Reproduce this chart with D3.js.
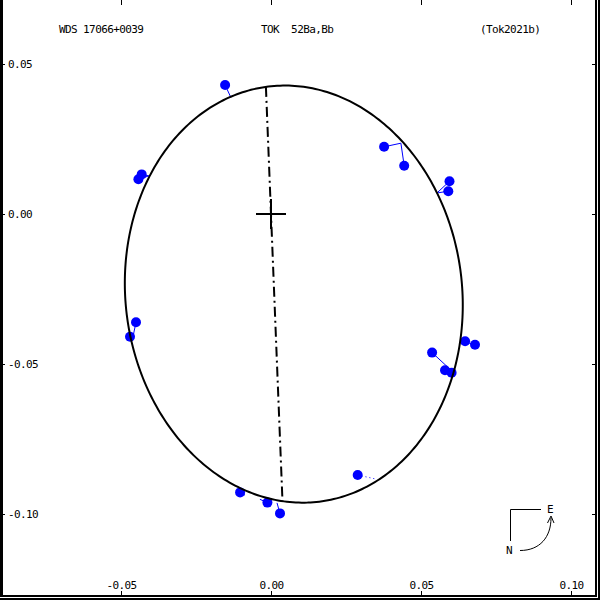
<!DOCTYPE html>
<html>
<head>
<meta charset="utf-8">
<script src="https://cdn.jsdelivr.net/npm/d3@7"></script>
<style>
  html, body { margin: 0; padding: 0; background: #fff; }
  svg { display: block; }
  text { font-family: "DejaVu Sans Mono", "Liberation Mono", monospace; font-size: 11px; letter-spacing: -0.6px; fill: #000; }
</style>
</head>
<body>
<svg id="chart" width="600" height="600"></svg>
<script>
// ---- Data (arcsec) ----
const titleLeft = "WDS 17066+0039";
const titleMid = "TOK  52Ba,Bb";
const titleRight = "(Tok2021b)";

const xTicks = [-0.05, 0.00, 0.05, 0.10];
const xTickLabels = ["-0.05", "0.00", "0.05", "0.10"];
const yTicks = [0.05, 0.00, -0.05, -0.10];
const yTickLabels = ["0.05", "0.00", "-0.05", "-0.10"];

// apparent orbit ellipse: centre, semi-axes, major-axis angle (deg from +x, CCW)
const orbitCenter = [0.0076, -0.0267];
const orbitSemiAxes = [0.0697, 0.0561];
const orbitAngleDeg = 97;
// line of nodes direction through primary (dx, dy)
const nodeDir = [-0.04, 1];

// observed positions
const obsX = [-0.0153, 0.0377, 0.0444, 0.0595, 0.0591, -0.0431, -0.0442, -0.0450, -0.0470,
              0.0537, 0.0580, 0.0602, 0.0647, 0.0680, 0.0289, -0.0103, -0.0012, 0.0030];
const obsY = [0.0430, 0.0224, 0.0161, 0.0109, 0.0076, 0.0132, 0.0116, -0.0361, -0.0409,
              -0.0462, -0.0521, -0.0529, -0.0424, -0.0436, -0.0870, -0.0928, -0.0962, -0.0998];
// predicted (ephemeris) positions on orbit for O-C lines
const predX = [-0.0134, 0.0433, 0.0433, 0.0553, 0.0553, -0.0407, -0.0407, -0.0463, -0.0463,
               0.0607, 0.0607, 0.0607, 0.0637, 0.0637, 0.0352, -0.0087, -0.0037, 0.0020];
const predY = [0.0389, 0.0236, 0.0236, 0.0070, 0.0070, 0.0127, 0.0127, -0.0423, -0.0423,
               -0.0527, -0.0527, -0.0527, -0.0423, -0.0423, -0.0884, -0.0937, -0.0951, -0.0963];
const obsDotted = [false, false, false, false, false, false, false, false, false,
                   false, false, false, false, false, true, false, false, false];

// ---- Chart ----
const svg = d3.select("#chart");
const x = d3.scaleLinear().domain([0, 0.05]).range([271, 421]);
const y = d3.scaleLinear().domain([0, 0.05]).range([214, 64]);

// frame
const frame = svg.append("g").attr("stroke", "#000").attr("fill", "none");
frame.append("line").attr("x1", 1.5).attr("y1", 0).attr("x2", 1.5).attr("y2", 597).attr("stroke-width", 3);
frame.append("line").attr("x1", 596).attr("y1", 0).attr("x2", 596).attr("y2", 597).attr("stroke-width", 2);
frame.append("line").attr("x1", 599).attr("y1", 0).attr("x2", 599).attr("y2", 600).attr("stroke-width", 2);
frame.append("line").attr("x1", 0).attr("y1", 596).attr("x2", 597).attr("y2", 596).attr("stroke-width", 2);
frame.append("line").attr("x1", 0).attr("y1", 599).attr("x2", 600).attr("y2", 599).attr("stroke-width", 2);

function styleAxis(g, showLabels) {
  g.select(".domain").remove();
  g.selectAll(".tick line").attr("stroke", "#000").attr("stroke-width", 1);
  g.attr("font-family", null).attr("font-size", null);
  if (!showLabels) g.selectAll(".tick text").remove();
}

// bottom axis (labels above ticks, inside frame)
svg.append("g").attr("transform", "translate(0,596)")
  .call(d3.axisTop(x).tickValues(xTicks).tickFormat((d, i) => xTickLabels[i]).tickSizeInner(5).tickSizeOuter(0).tickPadding(2))
  .call(g => styleAxis(g, true));
// top ticks
svg.append("g").attr("transform", "translate(0,0)")
  .call(d3.axisBottom(x).tickValues(xTicks).tickSizeInner(5).tickSizeOuter(0))
  .call(g => styleAxis(g, false));
// left axis (labels right of ticks)
svg.append("g").attr("transform", "translate(0,0)")
  .call(d3.axisRight(y).tickValues(yTicks).tickFormat((d, i) => yTickLabels[i]).tickSizeInner(5).tickSizeOuter(0).tickPadding(3))
  .call(g => styleAxis(g, true));
// right ticks
svg.append("g").attr("transform", "translate(596,0)")
  .call(d3.axisLeft(y).tickValues(yTicks).tickSizeInner(4).tickSizeOuter(0))
  .call(g => styleAxis(g, false));

// titles
svg.append("text").attr("x", 59).attr("y", 33).text(titleLeft);
svg.append("text").attr("x", 261).attr("y", 33).attr("xml:space", "preserve").style("white-space", "pre").text(titleMid);
svg.append("text").attr("x", 480).attr("y", 33).text(titleRight);

// observations: O-C lines
const obs = obsX.map((d, i) => ({ x: d, y: obsY[i], px: predX[i], py: predY[i], dotted: obsDotted[i] }));
svg.append("g").selectAll("line").data(obs).join("line")
  .attr("x1", d => x(d.x)).attr("y1", d => y(d.y))
  .attr("x2", d => x(d.px)).attr("y2", d => y(d.py))
  .attr("stroke", "#0000ff").attr("stroke-width", 1)
  .attr("stroke-dasharray", d => d.dotted ? "1,3" : null);
svg.append("g").selectAll("circle").data(obs).join("circle")
  .attr("cx", d => x(d.x)).attr("cy", d => y(d.y)).attr("r", 5)
  .attr("fill", "#0000ff");

// orbit ellipse
const th = orbitAngleDeg * Math.PI / 180;
const u = [Math.cos(th), Math.sin(th)], v = [-Math.sin(th), Math.cos(th)];
const [A, B] = orbitSemiAxes;
const ellPts = d3.range(0, 361, 1).map(k => {
  const t = k * Math.PI / 180;
  return [orbitCenter[0] + A * Math.cos(t) * u[0] + B * Math.sin(t) * v[0],
          orbitCenter[1] + A * Math.cos(t) * u[1] + B * Math.sin(t) * v[1]];
});
svg.append("path").datum(ellPts)
  .attr("d", d3.line().x(d => x(d[0])).y(d => y(d[1])))
  .attr("fill", "none").attr("stroke", "#000").attr("stroke-width", 2);

// line of nodes: intersections of line through origin with ellipse
function toLocal(p) {
  const q = [p[0] - orbitCenter[0], p[1] - orbitCenter[1]];
  return [(q[0] * u[0] + q[1] * u[1]) / A, (q[0] * v[0] + q[1] * v[1]) / B];
}
const o = toLocal([0, 0]);
const dl = [(nodeDir[0] * u[0] + nodeDir[1] * u[1]) / A, (nodeDir[0] * v[0] + nodeDir[1] * v[1]) / B];
const qa = dl[0] * dl[0] + dl[1] * dl[1];
const qb = 2 * (o[0] * dl[0] + o[1] * dl[1]);
const qc = o[0] * o[0] + o[1] * o[1] - 1;
const disc = Math.sqrt(qb * qb - 4 * qa * qc);
const s1 = (-qb + disc) / (2 * qa), s2 = (-qb - disc) / (2 * qa);
svg.append("line")
  .attr("x1", x(s1 * nodeDir[0])).attr("y1", y(s1 * nodeDir[1]))
  .attr("x2", x(s2 * nodeDir[0])).attr("y2", y(s2 * nodeDir[1]))
  .attr("stroke", "#000").attr("stroke-width", 2)
  .attr("stroke-dasharray", "10,4,2,4");

// primary cross
svg.append("line").attr("x1", x(0) - 15).attr("x2", x(0) + 15).attr("y1", y(0)).attr("y2", y(0))
  .attr("stroke", "#000").attr("stroke-width", 2);
svg.append("line").attr("x1", x(0)).attr("x2", x(0)).attr("y1", y(0) - 15).attr("y2", y(0) + 15)
  .attr("stroke", "#000").attr("stroke-width", 2);

// compass
const cg = svg.append("g").attr("fill", "none").attr("stroke", "#000").attr("stroke-width", 1);
cg.append("path").attr("d", "M510.5,541 L510.5,509.5 L541,509.5");
cg.append("path").attr("d", "M520,550.5 C540,550.5 551,537 551,518");
cg.append("path").attr("d", "M547.5,523 L551,516 L554,523");
svg.append("text").attr("x", 550).attr("y", 513).attr("text-anchor", "middle").text("E");
svg.append("text").attr("x", 509).attr("y", 554).attr("text-anchor", "middle").text("N");
</script>
</body>
</html>
